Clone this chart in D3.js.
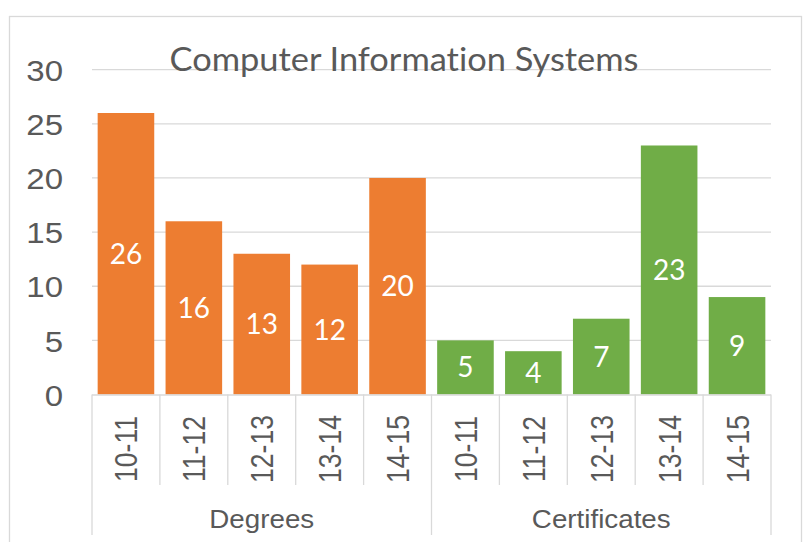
<!DOCTYPE html>
<html>
<head>
<meta charset="utf-8">
<script src="https://cdn.jsdelivr.net/npm/d3@7"></script>
<style>
  html, body { margin: 0; padding: 0; background: #fff; }
  svg { display: block; }
  .axis-text { font-family: Arial, "Liberation Sans", Helvetica, sans-serif; }
  .calibri-like { font-family: Lato, "Open Sans", sans-serif; font-variant-ligatures: none; font-feature-settings: "liga" 0; }
</style>
</head>
<body>
<svg id="chart" width="806" height="542"></svg>
<script>
// Program completions by award type and academic year
const chartTitle = "Computer Information Systems";
const groups = ["Degrees", "Certificates"];
const years = ["10-11", "11-12", "12-13", "13-14", "14-15"];
const degrees = [26, 16, 13, 12, 20];
const certificates = [5, 4, 7, 23, 9];
const yTicks = [0, 5, 10, 15, 20, 25, 30];

const seriesValues = [degrees, certificates];
const colors = ["#ED7D31", "#70AD47"];
const textColor = "#595959";
const lineColor = "#d9d9d9";

const rows = [];
groups.forEach((g, gi) => {
  years.forEach((yr, yi) => {
    rows.push({ key: g + "|" + yr, group: g, gi, year: yr, value: seriesValues[gi][yi] });
  });
});

const svg = d3.select("#chart");

const plotLeft = 92, plotRight = 771, plotTop = 69.7, plotBottom = 394.5;

const x = d3.scaleBand()
  .domain(rows.map(d => d.key))
  .range([plotLeft, plotRight])
  .paddingInner(1 / 6)
  .paddingOuter(1 / 12);

const y = d3.scaleLinear().domain([0, 30]).range([plotBottom, plotTop]);

// outer chart frame
svg.append("rect")
  .attr("x", 9.5).attr("y", 16.5)
  .attr("width", 792).attr("height", 560)
  .attr("fill", "none").attr("stroke", lineColor).attr("stroke-width", 1.3);

// horizontal gridlines
svg.append("g").selectAll("line").data(yTicks.filter(t => t > 0)).join("line")
  .attr("x1", plotLeft).attr("x2", plotRight)
  .attr("y1", d => y(d)).attr("y2", d => y(d))
  .attr("stroke", lineColor).attr("stroke-width", 1.3);

// value axis labels
const yAxis = d3.axisLeft(y).tickValues(yTicks).tickSize(0).tickPadding(0);
const yg = svg.append("g").attr("transform", `translate(${plotLeft},0)`).call(yAxis);
yg.attr("font-family", null).attr("font-size", null);
yg.select(".domain").remove();
yg.selectAll(".tick text").each(function () {
  d3.select(this)
    .attr("x", null).attr("dy", null)
    .attr("class", "axis-text")
    .attr("font-size", 30)
    .attr("fill", textColor)
    .attr("text-anchor", "end")
    .attr("transform", "translate(-29,10.7) scale(1.1,1)");
});

// title
svg.append("text")
  .attr("class", "calibri-like")
  .attr("x", 404).attr("y", 71)
  .attr("text-anchor", "middle")
  .attr("font-size", 32.5)
  .attr("fill", textColor)
  .attr("textLength", 469)
  .attr("lengthAdjust", "spacingAndGlyphs")
  .text(chartTitle);

// bars
svg.append("g").selectAll("rect").data(rows).join("rect")
  .attr("x", d => x(d.key))
  .attr("width", x.bandwidth())
  .attr("y", d => y(d.value))
  .attr("height", d => y(0) - y(d.value))
  .attr("fill", d => colors[d.gi]);

// value labels centred in each bar
svg.append("g").selectAll("text").data(rows).join("text")
  .attr("class", "calibri-like")
  .attr("x", d => x(d.key) + x.bandwidth() / 2)
  .attr("y", d => (y(d.value) + y(0)) / 2 + 10)
  .attr("text-anchor", "middle")
  .attr("font-size", 28)
  .attr("fill", "#ffffff")
  .text(d => d.value);

// category axis line
svg.append("line")
  .attr("x1", plotLeft).attr("x2", plotRight)
  .attr("y1", plotBottom + 0.5).attr("y2", plotBottom + 0.5)
  .attr("stroke", lineColor).attr("stroke-width", 1.3);

// tick separators: short between years, long between groups
const step = x.step();
const sepX = d3.range(rows.length + 1).map(i => plotLeft + i * step);
svg.append("g").selectAll("line").data(sepX).join("line")
  .attr("x1", d => d).attr("x2", d => d)
  .attr("y1", plotBottom)
  .attr("y2", (d, i) => (i % years.length === 0 ? 535 : 485))
  .attr("stroke", lineColor).attr("stroke-width", 1.3);

// rotated year labels
svg.append("g").selectAll("text").data(rows).join("text")
  .attr("class", "axis-text")
  .attr("text-anchor", "middle")
  .attr("font-size", 26.5)
  .attr("fill", textColor)
  .attr("transform", d => {
    const cx = x(d.key) + x.bandwidth() / 2 + 11.5;
    return `translate(${cx},449) scale(1.2,1) rotate(-90)`;
  })
  .text(d => d.year);

// group labels
const groupWidth = step * years.length;
svg.append("g").selectAll("text").data(groups).join("text")
  .attr("class", "axis-text")
  .attr("text-anchor", "middle")
  .attr("font-size", 25)
  .attr("fill", textColor)
  .attr("transform", (d, i) => `translate(${plotLeft + groupWidth * (i + 0.5)},528) scale(1.11,1)`)
  .text(d => d);
</script>
</body>
</html>
